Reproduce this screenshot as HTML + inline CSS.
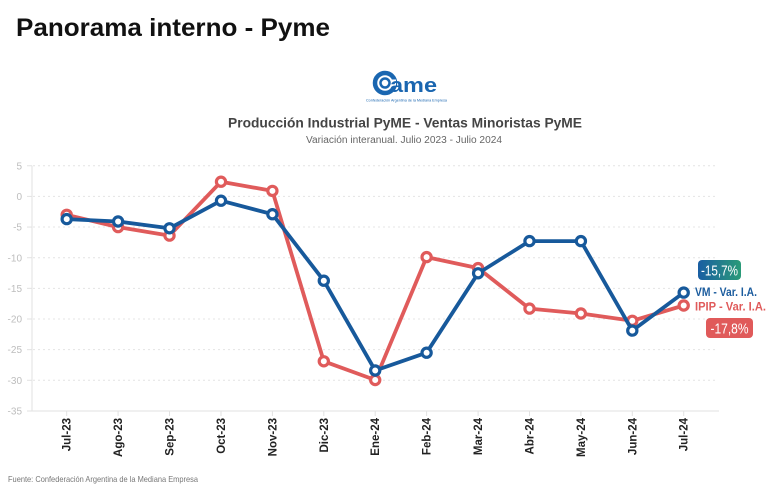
<!DOCTYPE html>
<html>
<head>
<meta charset="utf-8">
<style>
  html,body{margin:0;padding:0;background:#fff;}
  svg{display:block;}
  text{font-family:"Liberation Sans",sans-serif;}
</style>
</head>
<body>
<svg width="768" height="504" viewBox="0 0 768 504" xmlns="http://www.w3.org/2000/svg">
  <defs>
    <linearGradient id="gb" x1="0" y1="0" x2="1" y2="0">
      <stop offset="0" stop-color="#1a5ea3"/>
      <stop offset="1" stop-color="#2a9b78"/>
    </linearGradient>
  </defs>
  <rect width="768" height="504" fill="#fff"/>

  <!-- main title -->
  <text x="16" y="36" font-size="25" font-weight="bold" fill="#111" textLength="314" lengthAdjust="spacingAndGlyphs">Panorama interno - Pyme</text>

  <!-- logo -->
  <g>
    <circle cx="385" cy="83" r="10" fill="none" stroke="#1a66b0" stroke-width="4.5"/>
    <circle cx="385" cy="83" r="4.5" fill="none" stroke="#1a66b0" stroke-width="2.5"/>
    <rect x="392" y="79.5" width="4" height="7" fill="#fff"/>
    <text x="390" y="92" font-size="20" font-weight="bold" fill="#1a66b0" textLength="47" lengthAdjust="spacingAndGlyphs">ame</text>
    <text x="366" y="101.5" font-size="3.2" fill="#1a66b0" textLength="81" lengthAdjust="spacingAndGlyphs">Confederación Argentina de la Mediana Empresa</text>
  </g>

  <!-- chart titles -->
  <text x="228" y="127.5" font-size="14" font-weight="bold" fill="#444" textLength="354" lengthAdjust="spacingAndGlyphs">Producción Industrial PyME - Ventas Minoristas PyME</text>
  <text x="306" y="143" font-size="10" fill="#666" textLength="196" lengthAdjust="spacingAndGlyphs">Variación interanual. Julio 2023 - Julio 2024</text>

  <!-- grid -->
  <g stroke="#e4e4e4" stroke-width="1" stroke-dasharray="2,3">
    <line x1="33" x2="718" y1="165.75" y2="165.75"/>
    <line x1="33" x2="718" y1="196.4" y2="196.4"/>
    <line x1="33" x2="718" y1="227.05" y2="227.05"/>
    <line x1="33" x2="718" y1="257.7" y2="257.7"/>
    <line x1="33" x2="718" y1="288.35" y2="288.35"/>
    <line x1="33" x2="718" y1="319" y2="319"/>
    <line x1="33" x2="718" y1="349.65" y2="349.65"/>
    <line x1="33" x2="718" y1="380.3" y2="380.3"/>
  </g>

  <!-- axes -->
  <g stroke="#e2e2e2" stroke-width="1">
    <line x1="32" x2="32" y1="165.75" y2="411"/>
    <line x1="32" x2="719" y1="411" y2="411"/>
    <line x1="27" x2="32" y1="165.75" y2="165.75"/>
    <line x1="27" x2="32" y1="196.4" y2="196.4"/>
    <line x1="27" x2="32" y1="227.05" y2="227.05"/>
    <line x1="27" x2="32" y1="257.7" y2="257.7"/>
    <line x1="27" x2="32" y1="288.35" y2="288.35"/>
    <line x1="27" x2="32" y1="319" y2="319"/>
    <line x1="27" x2="32" y1="349.65" y2="349.65"/>
    <line x1="27" x2="32" y1="380.3" y2="380.3"/>
    <line x1="27" x2="32" y1="411" y2="411"/>
    <line x1="66.7" x2="66.7" y1="411" y2="416"/>
    <line x1="118.1" x2="118.1" y1="411" y2="416"/>
    <line x1="169.5" x2="169.5" y1="411" y2="416"/>
    <line x1="221" x2="221" y1="411" y2="416"/>
    <line x1="272.4" x2="272.4" y1="411" y2="416"/>
    <line x1="323.8" x2="323.8" y1="411" y2="416"/>
    <line x1="375.2" x2="375.2" y1="411" y2="416"/>
    <line x1="426.6" x2="426.6" y1="411" y2="416"/>
    <line x1="478.1" x2="478.1" y1="411" y2="416"/>
    <line x1="529.5" x2="529.5" y1="411" y2="416"/>
    <line x1="580.9" x2="580.9" y1="411" y2="416"/>
    <line x1="632.3" x2="632.3" y1="411" y2="416"/>
    <line x1="683.7" x2="683.7" y1="411" y2="416"/>
  </g>

  <!-- y labels -->
  <g font-size="10" fill="#bdbdbd" text-anchor="end">
    <text x="22" y="169.3">5</text>
    <text x="22" y="200">0</text>
    <text x="22" y="230.6">-5</text>
    <text x="22" y="261.3">-10</text>
    <text x="22" y="292">-15</text>
    <text x="22" y="322.6">-20</text>
    <text x="22" y="353.2">-25</text>
    <text x="22" y="383.9">-30</text>
    <text x="22" y="414.6">-35</text>
  </g>

  <!-- x labels -->
  <g font-size="11.5" font-weight="bold" fill="#222" text-anchor="end">
    <text transform="translate(70.7,418) rotate(-90)">Jul-23</text>
    <text transform="translate(122.1,418) rotate(-90)">Ago-23</text>
    <text transform="translate(173.5,418) rotate(-90)">Sep-23</text>
    <text transform="translate(225,418) rotate(-90)">Oct-23</text>
    <text transform="translate(276.4,418) rotate(-90)">Nov-23</text>
    <text transform="translate(327.8,418) rotate(-90)">Dic-23</text>
    <text transform="translate(379.2,418) rotate(-90)">Ene-24</text>
    <text transform="translate(430.6,418) rotate(-90)">Feb-24</text>
    <text transform="translate(482.1,418) rotate(-90)">Mar-24</text>
    <text transform="translate(533.5,418) rotate(-90)">Abr-24</text>
    <text transform="translate(584.9,418) rotate(-90)">May-24</text>
    <text transform="translate(636.3,418) rotate(-90)">Jun-24</text>
    <text transform="translate(687.7,418) rotate(-90)">Jul-24</text>
  </g>

  <!-- red series (IPIP) -->
  <polyline fill="none" stroke="#e05b5b" stroke-width="3.8" stroke-linejoin="round"
    points="66.7,214.8 118.1,227.1 169.5,235.6 221,181.7 272.4,190.9 323.8,361.3 375.2,380 426.6,257.1 478.1,268.1 529.5,308.6 580.9,313.5 632.3,320.8 683.7,305.5"/>
  <g fill="#fff" stroke="#e05b5b" stroke-width="3.2">
    <circle cx="66.7" cy="214.8" r="4.6"/>
    <circle cx="118.1" cy="227.1" r="4.6"/>
    <circle cx="169.5" cy="235.6" r="4.6"/>
    <circle cx="221" cy="181.7" r="4.6"/>
    <circle cx="272.4" cy="190.9" r="4.6"/>
    <circle cx="323.8" cy="361.3" r="4.6"/>
    <circle cx="375.2" cy="380" r="4.6"/>
    <circle cx="426.6" cy="257.1" r="4.6"/>
    <circle cx="478.1" cy="268.1" r="4.6"/>
    <circle cx="529.5" cy="308.6" r="4.6"/>
    <circle cx="580.9" cy="313.5" r="4.6"/>
    <circle cx="632.3" cy="320.8" r="4.6"/>
    <circle cx="683.7" cy="305.5" r="4.6"/>
  </g>

  <!-- blue series (VM) -->
  <polyline fill="none" stroke="#17599b" stroke-width="3.8" stroke-linejoin="round"
    points="66.7,219.1 118.1,221.5 169.5,228.3 221,200.7 272.4,214.2 323.8,280.7 375.2,370.5 426.6,352.7 478.1,273.3 529.5,241.1 580.9,241.1 632.3,330.6 683.7,292.6"/>
  <g fill="#fff" stroke="#17599b" stroke-width="3.2">
    <circle cx="66.7" cy="219.1" r="4.6"/>
    <circle cx="118.1" cy="221.5" r="4.6"/>
    <circle cx="169.5" cy="228.3" r="4.6"/>
    <circle cx="221" cy="200.7" r="4.6"/>
    <circle cx="272.4" cy="214.2" r="4.6"/>
    <circle cx="323.8" cy="280.7" r="4.6"/>
    <circle cx="375.2" cy="370.5" r="4.6"/>
    <circle cx="426.6" cy="352.7" r="4.6"/>
    <circle cx="478.1" cy="273.3" r="4.6"/>
    <circle cx="529.5" cy="241.1" r="4.6"/>
    <circle cx="580.9" cy="241.1" r="4.6"/>
    <circle cx="632.3" cy="330.6" r="4.6"/>
    <circle cx="683.7" cy="292.6" r="4.6"/>
  </g>

  <!-- series labels -->
  <text x="695" y="296" font-size="11.5" font-weight="bold" fill="#1b5c9e" textLength="62" lengthAdjust="spacingAndGlyphs">VM - Var. I.A.</text>
  <text x="695" y="310.5" font-size="11.5" font-weight="bold" fill="#e05b5b" textLength="71" lengthAdjust="spacingAndGlyphs">IPIP - Var. I.A.</text>

  <!-- badges -->
  <rect x="698" y="260" width="43" height="20" rx="4" fill="url(#gb)"/>
  <text x="719.5" y="275.5" font-size="15" fill="#fff" text-anchor="middle" textLength="37" lengthAdjust="spacingAndGlyphs">-15,7%</text>
  <rect x="706" y="318" width="47" height="20" rx="4" fill="#e05a5a"/>
  <text x="729.5" y="333.5" font-size="15" fill="#fff" text-anchor="middle" textLength="38" lengthAdjust="spacingAndGlyphs">-17,8%</text>

  <!-- footer -->
  <text x="8" y="482" font-size="8.5" fill="#777" textLength="190" lengthAdjust="spacingAndGlyphs">Fuente: Confederación Argentina de la Mediana Empresa</text>
</svg>
</body>
</html>
